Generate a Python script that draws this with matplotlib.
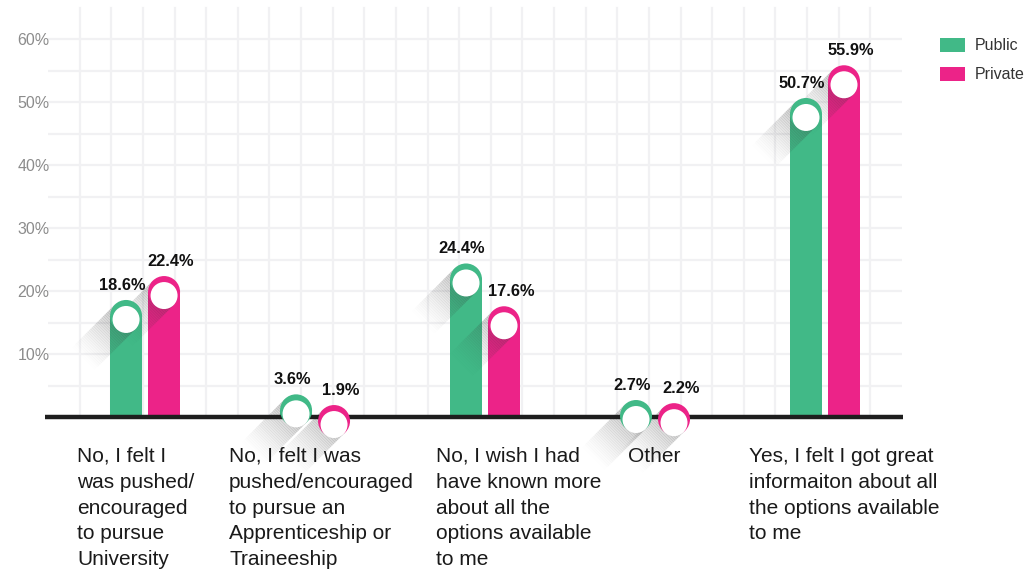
import numpy as np
import matplotlib
matplotlib.use("Agg")
import matplotlib.pyplot as plt
import matplotlib.transforms as mtransforms
from matplotlib.patches import Circle, Polygon, Patch

# ---------------- data ----------------
categories = [
    "No, I felt I\nwas pushed/\nencouraged\nto pursue\nUniversity",
    "No, I felt I was\npushed/encouraged\nto pursue an\nApprenticeship or\nTraineeship",
    "No, I wish I had\nhave known more\nabout all the\noptions available\nto me",
    "Other",
    "Yes, I felt I got great\ninformaiton about all\nthe options available\nto me",
]
series_names = ["Public", "Private"]
public_values = [18.6, 3.6, 24.4, 2.7, 50.7]
private_values = [22.4, 1.9, 17.6, 2.2, 55.9]
ytick_values = [10, 20, 30, 40, 50, 60]
ytick_labels = ["10%", "20%", "30%", "40%", "50%", "60%"]

# ---------------- style ----------------
GREEN = "#41B987"
PINK = "#EC2388"
GRID = "#F1F1F3"
FONT = ["Liberation Sans", "DejaVu Sans"]
plt.rcParams["font.family"] = FONT

W, H, DPI = 1029, 574, 100
fig = plt.figure(figsize=(W / DPI, H / DPI), dpi=DPI)
ax_left, ax_right, ax_top, ax_bottom = 48, 902, 8, 417
ax = fig.add_axes([ax_left / W, (H - ax_bottom) / H,
                   (ax_right - ax_left) / W, (ax_bottom - ax_top) / H])
ax.set_xlim(-0.571, 4.453)
ax.set_ylim(0, 65)
for s in ax.spines.values():
    s.set_visible(False)

px_x = (ax_right - ax_left) / (4.453 + 0.571)   # pixels per x unit
px_y = (ax_bottom - ax_top) / 65.0               # pixels per y unit

# grid
for k in range(1, 27):
    ax.plot([k / 27.0, k / 27.0], [0, 1], transform=ax.transAxes,
            color=GRID, lw=1.6, zorder=0, clip_on=False)
for yv in np.arange(5, 61, 5):
    ax.axhline(yv, color=GRID, lw=1.6, zorder=0)

ax.set_yticks(ytick_values)
ax.set_yticklabels(ytick_labels)
ax.tick_params(axis="y", length=0, pad=-1, labelsize=11.5, labelcolor="#8C8C8C")
ax.set_xticks([])

# baseline
ax.plot([-0.004, 1.001], [0, 0], transform=ax.transAxes, color="#1E1E1E",
        lw=3.2, zorder=4, solid_capstyle="butt", clip_on=False)

x = np.arange(len(categories))
bar_w = 32 / px_x
off = 19 / px_x
R = 16.0                 # cap radius in pixels
r_units = R / px_y

def draw_bar(xc, val, color):
    h = max(val - r_units, 0)
    ax.bar(xc, h, width=bar_w, color=color, zorder=2, linewidth=0)
    tr = mtransforms.ScaledTranslation(xc, val, ax.transData)
    # long shadow
    d = np.array([-1.0, -1.0]) / np.sqrt(2)
    p = np.array([-1.0, 1.0]) / np.sqrt(2)
    c = np.array([0.0, -R])
    L, N = 60.0, 30
    for i in range(N):
        a0, a1 = i * L / N, (i + 1) * L / N + 0.6
        verts = [c + R * p + a0 * d, c - R * p + a0 * d,
                 c - R * p + a1 * d, c + R * p + a1 * d]
        alpha = 0.26 * (1 - i / N) ** 1.4
        ax.add_patch(Polygon(verts, closed=True, transform=tr, facecolor="#3A3A3A",
                             alpha=alpha, lw=0, zorder=3, clip_on=False))
    ax.add_patch(Circle((0, -R), R, transform=tr, facecolor=color, lw=0,
                        zorder=5, clip_on=False))
    ax.add_patch(Circle((0, -R - 3.5), 13.5, transform=tr, facecolor="white", lw=0,
                        zorder=6, clip_on=False))

def draw_label(xc, val, dx):
    tr = mtransforms.offset_copy(ax.transData, fig=fig, x=dx, y=10, units="dots")
    ax.text(xc, val, f"{val:.1f}%", transform=tr, ha="center", va="baseline",
            fontsize=11.8, fontweight="bold", color="#111111", zorder=7)

for i in range(len(categories)):
    draw_bar(x[i] - off, public_values[i], GREEN)
    draw_bar(x[i] + off, private_values[i], PINK)
for i in range(len(categories)):
    draw_label(x[i] - off, public_values[i], -4)
    draw_label(x[i] + off, private_values[i], 7)

# category labels (left-aligned blocks under each group)
label_dx_px = [-68, -86, -49, -27, -76]
for i, cat in enumerate(categories):
    tr = mtransforms.offset_copy(ax.transData, fig=fig, x=label_dx_px[i], y=-30,
                                 units="dots")
    ax.text(x[i], 0, cat, transform=tr, ha="left", va="top", fontsize=15,
            color="#1A1A1A", linespacing=1.45)

# legend
handles = [Patch(facecolor=GREEN, label=series_names[0]),
           Patch(facecolor=PINK, label=series_names[1])]
leg = fig.legend(handles=handles, loc="upper left",
                 bbox_to_anchor=(940 / W, 1 - 38 / H), frameon=False,
                 fontsize=11.5, handlelength=1.55, handleheight=0.95,
                 handletextpad=0.6, labelspacing=0.85, borderpad=0, borderaxespad=0)
for t in leg.get_texts():
    t.set_color("#333333")

fig.savefig("out.png", dpi=DPI, facecolor="white")
